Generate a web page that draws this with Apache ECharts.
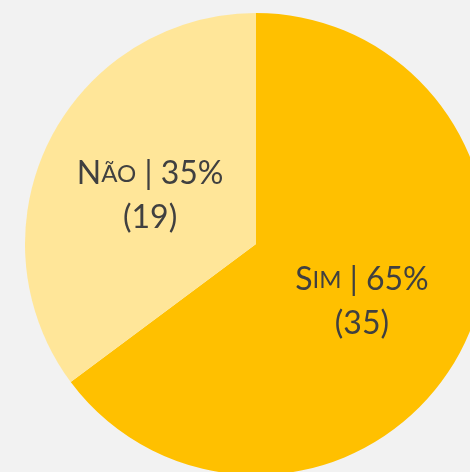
<!DOCTYPE html>
<html>
<head>
<meta charset="utf-8">
<script src="https://cdn.jsdelivr.net/npm/echarts@6/dist/echarts.min.js"></script>
<style>
html,body{margin:0;padding:0;background:#f2f2f2;}
#chart{width:470px;height:472px;}
</style>
</head>
<body>
<div id="chart"></div>
<script>
var categories = ['Sim', 'Não'];
var values = [35, 19];
var colors = ['#FFC000', '#FFE699'];

var chart = echarts.init(document.getElementById('chart'), null, {renderer: 'canvas'});
function smallCaps(name) {
  return '{cap|' + name.charAt(0).toUpperCase() + '}{sc|' + name.slice(1).toUpperCase() + '}';
}
var option = {
  backgroundColor: '#f2f2f2',
  animation: false,
  series: [{
    type: 'pie',
    center: [256, 244],
    radius: 231,
    startAngle: 90,
    clockwise: true,
    silent: true,
    itemStyle: { borderWidth: 0 },
    label: {
      show: true,
      position: 'inside',
      offset: [0, 5],
      fontFamily: 'Lato',
      color: '#404040',
      formatter: function (p) {
        return smallCaps(p.name) + '{cap| | ' + Math.round(p.percent) + '%}\n{cap|(' + p.value + ')}';
      },
      rich: {
        cap: { fontFamily: 'Lato', fontSize: 32, color: '#404040', lineHeight: 44 },
        sc: { fontFamily: 'Lato', fontSize: 24, color: '#404040', lineHeight: 44 }
      }
    },
    labelLine: { show: false },
    data: categories.map(function (c, i) {
      return { name: c, value: values[i], itemStyle: { color: colors[i] } };
    })
  }]
};
chart.setOption(option);
</script>
</body>
</html>
